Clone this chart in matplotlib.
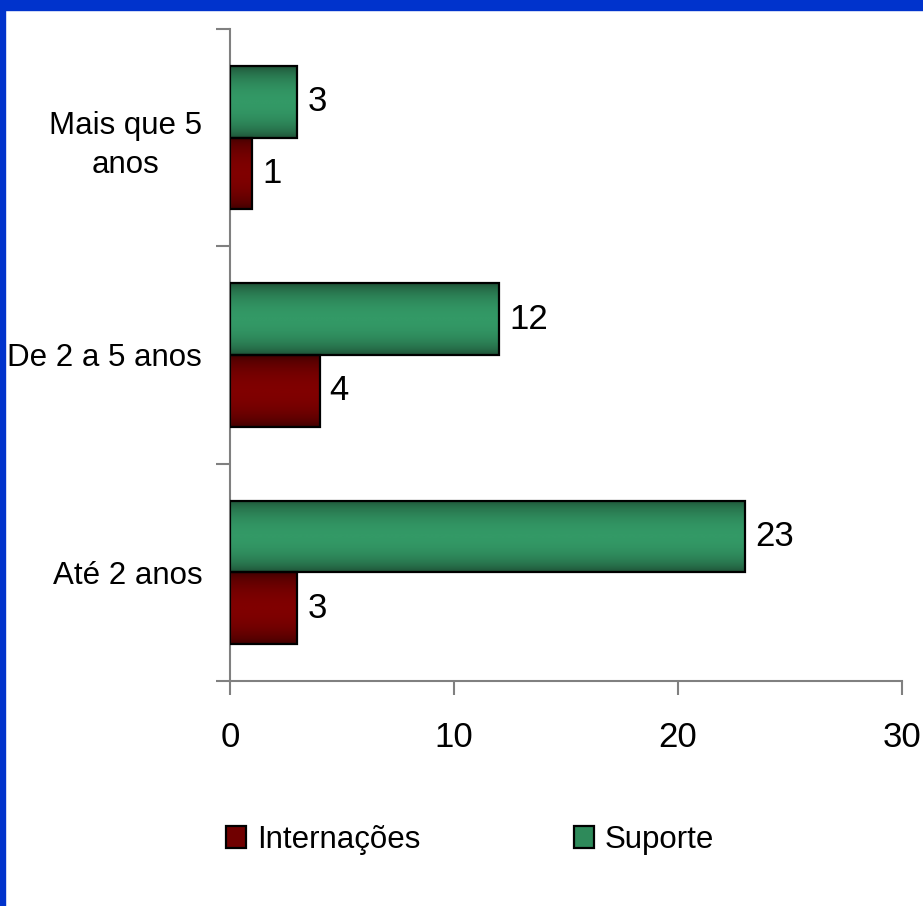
import numpy as np
import matplotlib
matplotlib.use('Agg')
import matplotlib.pyplot as plt
from matplotlib import font_manager
from matplotlib.patches import Rectangle, Patch
from matplotlib.colors import LinearSegmentedColormap

# data (bottom to top)
categories = ['Até 2 anos', 'De 2 a 5 anos', 'Mais que 5\nanos']
suporte = [23, 12, 3]
internacoes = [3, 4, 1]
x_ticks = [0, 10, 20, 30]

# pick a narrow Arial-like face if it is there
try:
    font_manager.findfont('Liberation Sans Narrow', fallback_to_default=False)
    family, fsize, nsize = 'Liberation Sans Narrow', 26, 26
except Exception:
    family, fsize, nsize = 'Liberation Sans', 22.5, 25
plt.rcParams['font.family'] = [family, 'DejaVu Sans']

green_cmap = LinearSegmentedColormap.from_list('g', ['#1c4a31', '#339966'])
red_cmap = LinearSegmentedColormap.from_list('r', ['#3a0000', '#800000'])


def gradient_bars(ax, pos, values, height, cmap):
    bars = ax.barh(pos, values, height=height, facecolor='none',
                   edgecolor='black', linewidth=1.6, zorder=3)
    t = np.linspace(0, 1, 200)
    grad = (np.sin(np.pi * t) ** 0.6).reshape(-1, 1)
    for b in bars:
        x0, y0 = b.get_x(), b.get_y()
        ax.imshow(grad, cmap=cmap, aspect='auto', zorder=2,
                  extent=[x0, x0 + b.get_width(), y0, y0 + b.get_height()],
                  interpolation='bilinear', vmin=0, vmax=1)
    return bars


fig = plt.figure(figsize=(9.23, 9.06), dpi=100)
fig.patches.append(Rectangle((0, 1 - 10 / 906), 1, 10 / 906, transform=fig.transFigure,
                             color='#0033cc', zorder=0))
fig.patches.append(Rectangle((0, 0), 5 / 923, 1, transform=fig.transFigure,
                             color='#0033cc', zorder=0))

ax = fig.add_axes([230 / 923, (906 - 681) / 906, 672 / 923, 652 / 906])

y = np.arange(len(categories))
h = 0.33
gradient_bars(ax, y + 0.165, suporte, h, green_cmap)
gradient_bars(ax, y - 0.165, internacoes, h, red_cmap)

for i in range(len(categories)):
    ax.text(suporte[i] + 0.45, y[i] + 0.165, str(suporte[i]), va='center', ha='left',
            fontsize=nsize)
    ax.text(internacoes[i] + 0.45, y[i] - 0.165, str(internacoes[i]), va='center', ha='left',
            fontsize=nsize)

ax.set_xlim(0, 30)
ax.set_ylim(-0.5, 2.5)
ax.set_xticks(x_ticks)
ax.set_xticklabels([str(v) for v in x_ticks], fontsize=nsize)
ax.set_yticks([-0.5, 0.5, 1.5, 2.5])
ax.set_yticklabels([])
ax.set_yticks(y, minor=True)
ax.set_yticklabels(categories, minor=True, fontsize=fsize, multialignment='center',
                   linespacing=1.4)
ax.tick_params(axis='y', which='minor', length=0, pad=20)
ax.tick_params(axis='both', which='major', length=10, width=1.5, color='#808080',
               direction='out')
ax.tick_params(axis='x', pad=19)

for s in ['top', 'right']:
    ax.spines[s].set_visible(False)
for s in ['left', 'bottom']:
    ax.spines[s].set_color('#808080')
    ax.spines[s].set_linewidth(1.5)

handles = [Patch(facecolor='#700000', edgecolor='black', linewidth=1.6),
           Patch(facecolor='#2e8a5a', edgecolor='black', linewidth=1.6)]
fig.legend(handles, ['Internações', 'Suporte'], loc='center left',
           bbox_to_anchor=(226 / 923, 1 - 840 / 906), ncol=2, frameon=False,
           fontsize=fsize, handlelength=0.65, handleheight=0.7, handletextpad=0.35,
           columnspacing=4.9, borderpad=0, borderaxespad=0)

fig.savefig('out.png', dpi=100)
